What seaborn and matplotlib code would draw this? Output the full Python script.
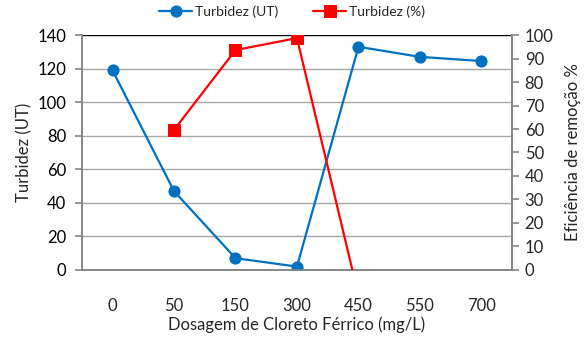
import numpy as np
import pandas as pd
import matplotlib
matplotlib.use("Agg")
import matplotlib.pyplot as plt
import seaborn as sns

# Doses of ferric chloride (mg/L) and measured results
dosagens = ["0", "50", "150", "300", "450", "550", "700"]
turbidez_ut = [119, 47, 7, 2, 133, 127, 124.5]
remocao_dosagens = ["50", "150", "300", "450"]
remocao_pct = [59.6, 93.6, 98.7, -10.8]

sns.set_theme(style="white")
plt.rcParams["font.family"] = ["Lato", "DejaVu Sans"]

pos = {d: i for i, d in enumerate(dosagens)}
df_ut = pd.DataFrame({"x": [pos[d] for d in dosagens], "y": turbidez_ut})
df_pct = pd.DataFrame({"x": [pos[d] for d in remocao_dosagens], "y": remocao_pct})

fig = plt.figure(figsize=(5.84, 3.37), dpi=100)
ax = fig.add_axes([0.140, 0.199, 0.737, 0.697])
ax2 = ax.twinx()

blue = "#0070C0"
red = "#FF0000"
grid = "#A6A6A6"

# horizontal grid lines
for v in range(20, 141, 20):
    ax.axhline(v, color=grid if v < 140 else "black", lw=1.0, zorder=0)

sns.lineplot(data=df_ut, x="x", y="y", ax=ax, color=blue, marker="o",
             markersize=8, markeredgecolor=blue, lw=1.6, sort=False,
             label="Turbidez (UT)", legend=False, zorder=3)
sns.lineplot(data=df_pct, x="x", y="y", ax=ax2, color=red, marker="s",
             markersize=8, markeredgecolor=red, lw=1.6, sort=False,
             label="Turbidez (%)", legend=False, zorder=3)

ax.set_xlim(-0.5, len(dosagens) - 0.5)
ax.set_ylim(0, 140)
ax2.set_ylim(0, 100)
ax.set_yticks(range(0, 141, 20))
ax2.set_yticks(range(0, 101, 10))
ax.set_xticks(range(len(dosagens)))
ax.set_xticklabels(dosagens)

for a in (ax, ax2):
    for s in a.spines.values():
        s.set_color("#868686")
        s.set_linewidth(1.2)
    a.spines["top"].set_visible(False)

ax.tick_params(axis="y", which="both", left=True, length=5, width=1.2,
               color="#868686", labelsize=12, pad=6, colors="black")
ax.tick_params(axis="y", color="#868686")
ax2.tick_params(axis="y", right=True, length=5, width=1.2,
                color="#868686", labelsize=12, pad=4)
ax.tick_params(axis="x", bottom=False, labelsize=12, pad=14)

ax.set_xlabel("Dosagem de Cloreto Férrico (mg/L)", fontsize=12, labelpad=2)
ax.set_ylabel("Turbidez (UT)", fontsize=12, labelpad=4)
ax2.set_ylabel("Eficiência de remoção %", fontsize=12, labelpad=8)

h1, l1 = ax.get_legend_handles_labels()
h2, l2 = ax2.get_legend_handles_labels()
fig.legend(h1 + h2, l1 + l2, loc="upper center", ncol=2, frameon=False,
           bbox_to_anchor=(0.5, 1.02), fontsize=10, handlelength=2.4,
           columnspacing=2.5, handletextpad=0.2)

fig.savefig("out.png", dpi=100)
